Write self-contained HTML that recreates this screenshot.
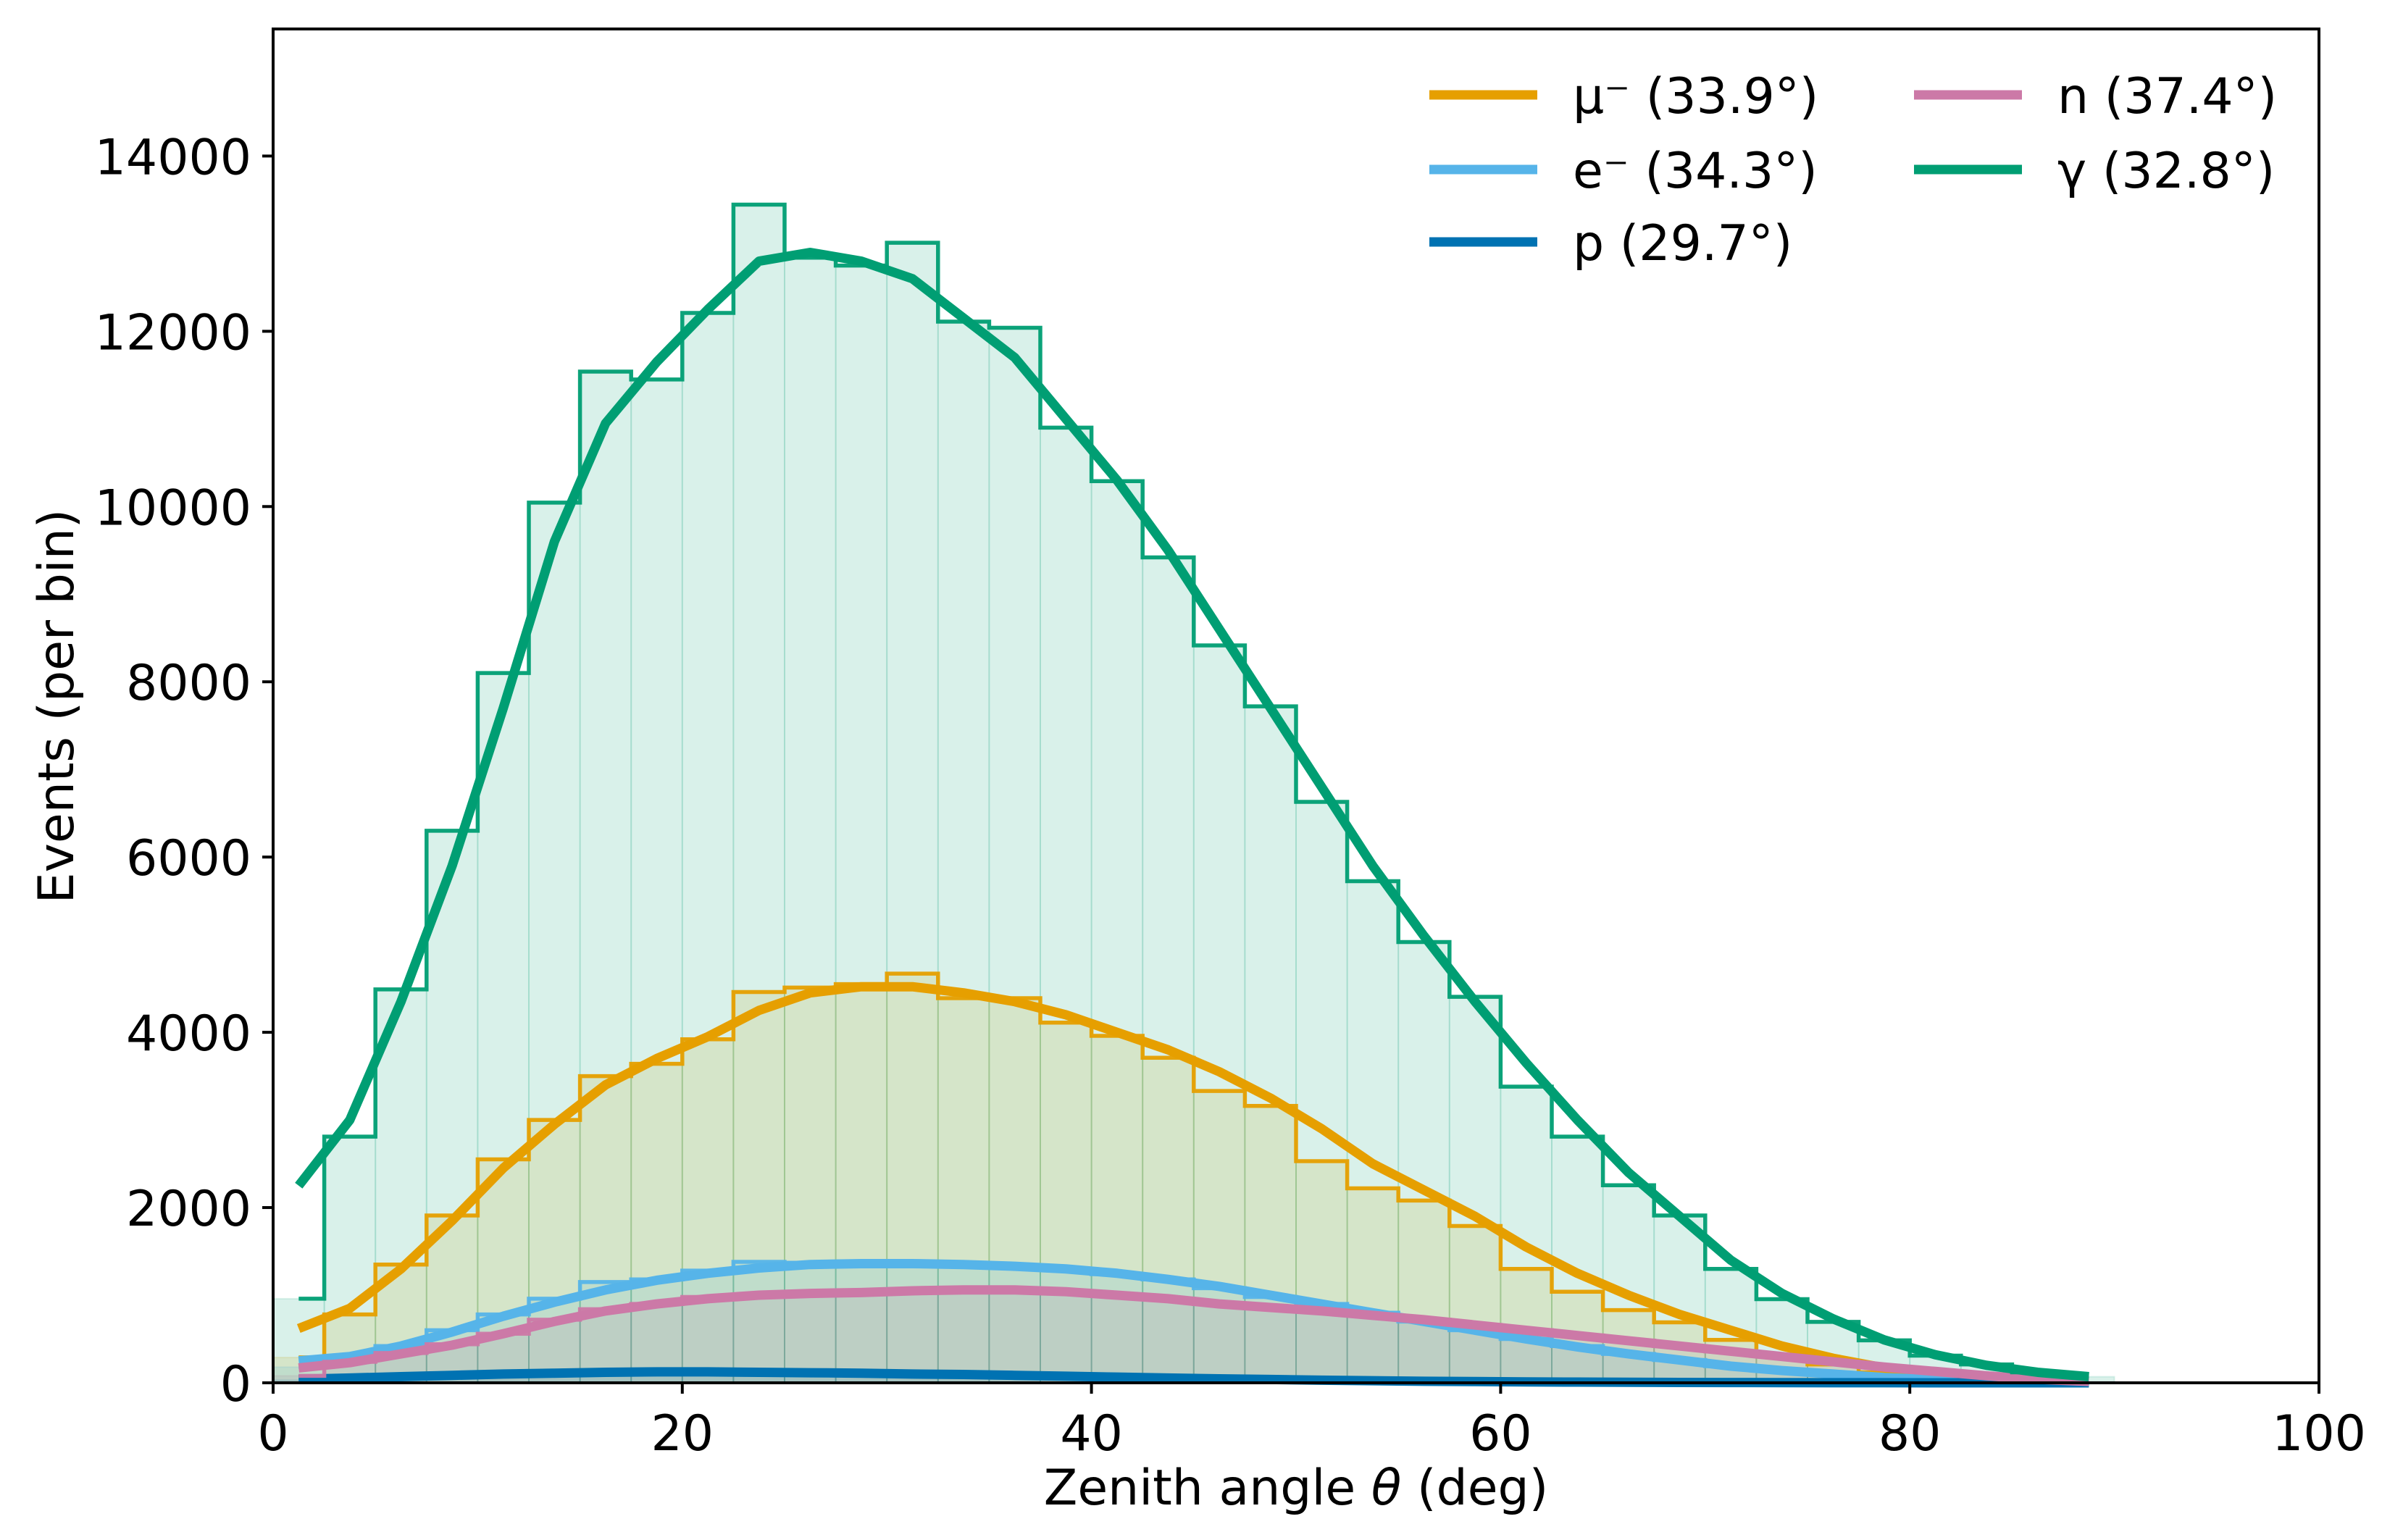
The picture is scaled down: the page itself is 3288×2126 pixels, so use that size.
<!DOCTYPE html>
<html><head><meta charset="utf-8"><style>
html,body{margin:0;padding:0;background:#fff}
svg{display:block}
text{font-family:"DejaVu Sans","Liberation Sans",sans-serif;fill:#000}
</style></head><body>
<svg id="chart" width="3288" height="2126" viewBox="0 0 3288 2126" xmlns="http://www.w3.org/2000/svg">
<rect width="3288" height="2126" fill="#fff"/>
<g id="plot"></g>
<g id="axes"></g>
<text x="1789" y="2077" font-size="68" text-anchor="middle">Zenith angle <tspan font-style="italic">θ</tspan> (deg)</text>
<text transform="translate(101,975) rotate(-90)" font-size="68" text-anchor="middle">Events (per bin)</text>
</svg>
<script>
const binEdgesStart = 0, binWidth = 2.5, nBins = 36;
const xTicks = [0, 20, 40, 60, 80, 100];
const yTicks = [0, 2000, 4000, 6000, 8000, 10000, 12000, 14000];
const seriesNames = ["mu", "e", "p", "n", "gamma"];
const legendLabels = ["μ⁻ (33.9°)", "e⁻ (34.3°)", "p (29.7°)", "n (37.4°)", "γ (32.8°)"];
const seriesColors = ["#E69F00", "#56B4E9", "#0072B2", "#CC79A7", "#009E73"];
const histMu = [290,780,1350,1910,2550,3000,3500,3640,3920,4460,4510,4550,4670,4390,4390,4110,3960,3710,3330,3160,2530,2220,2080,1790,1300,1040,830,690,490,310,210,120,70,35,15,0];
const curveMu = [620,850,1300,1850,2450,2950,3400,3700,3950,4250,4450,4520,4520,4450,4350,4200,4000,3800,3550,3250,2900,2500,2200,1900,1550,1250,1000,780,600,420,280,170,100,50,20,5];
const histE = [180,280,420,600,780,960,1150,1180,1280,1380,1370,1360,1370,1340,1340,1300,1240,1180,1080,980,900,800,700,600,500,420,330,260,190,140,100,60,35,20,10,5];
const curveE = [250,300,420,580,760,920,1060,1170,1250,1310,1350,1360,1360,1350,1330,1300,1250,1180,1100,1000,900,800,700,600,500,410,330,260,190,140,100,60,35,20,10,5];
const histP = [30,50,70,85,100,110,120,125,125,120,115,110,100,95,85,75,65,55,45,38,30,24,18,14,10,8,6,4,3,2,1,1,0,0,0,0];
const curveP = [40,55,70,85,100,110,120,125,125,120,115,110,100,95,85,75,65,55,45,38,30,24,18,14,10,8,6,4,3,2,1,1,0,0,0,0];
const histN = [80,240,340,440,560,720,840,900,980,1000,1020,1040,1060,1050,1060,1030,1000,960,900,860,820,770,720,660,600,540,480,420,360,300,240,180,130,80,40,15];
const curveN = [170,230,330,430,560,700,820,900,960,1000,1020,1030,1050,1060,1060,1040,1000,960,900,860,820,770,720,660,600,540,480,420,360,300,240,180,130,80,40,15];
const histG = [960,2810,4490,6300,8100,10045,11540,11450,12210,13445,12840,12750,13010,12110,12040,10900,10290,9420,8415,7720,6630,5725,5030,4405,3380,2810,2255,1910,1300,955,695,485,310,210,120,70];
const curveG = [2250,3000,4350,5900,7700,9600,10950,11650,12250,12800,12900,12800,12600,12150,11700,11000,10300,9500,8600,7700,6800,5900,5100,4350,3650,3000,2400,1900,1400,1020,730,490,320,200,120,70];
const allHists = [histMu, histE, histP, histN, histG];
const allCurves = [curveMu, curveE, curveP, curveN, curveG];

const L = 377, R = 3201, T = 40, B = 1909;
const XMAX = 100, YMAX = 15450;
const xs = v => L + (v / XMAX) * (R - L);
const ys = v => B - (v / YMAX) * (B - T);
const NS = "http://www.w3.org/2000/svg";
function mk(tag, attrs, parent) {
  const e = document.createElementNS(NS, tag);
  for (const k in attrs) e.setAttribute(k, attrs[k]);
  parent.appendChild(e);
  return e;
}
const plot = document.getElementById("plot");
const axes = document.getElementById("axes");
const centers = [];
for (let i = 0; i < nBins; i++) centers.push(binEdgesStart + binWidth * (i + 0.5));

allHists.forEach((h, s) => {
  const g = mk("g", {}, plot);
  
  
  h.forEach((v, i) => {
    const x0 = xs(binEdgesStart + i * binWidth), x1 = xs(binEdgesStart + (i + 1) * binWidth);
    const r = mk("rect", {x: x0, y: ys(v), width: x1 - x0, height: B - ys(v),
      fill: seriesColors[s], "fill-opacity": 0.15, stroke: seriesColors[s], "stroke-opacity": 0.12, "stroke-width": 2}, g);
    
    
  });
});
allHists.forEach((h, s) => {
  let d = "";
  h.forEach((v, i) => {
    const xa = i === 0 ? xs(centers[0]) : xs(binEdgesStart + i * binWidth);
    const xb = i === nBins - 1 ? xs(centers[i]) : xs(binEdgesStart + (i + 1) * binWidth);
    d += (i === 0 ? "M" : "L") + xa + "," + ys(v) + "L" + xb + "," + ys(v);
  });
  const st = mk("path", {d: d, fill: "none", stroke: seriesColors[s], "stroke-width": 5.5, "stroke-opacity": 0.95}, plot);
  
  
  const c = allCurves[s];
  const pd = c.map((v, i) => (i ? "L" : "M") + xs(centers[i]) + "," + ys(v)).join("");
  const cl = mk("path", {d: pd, fill: "none", stroke: seriesColors[s], "stroke-width": 13, "stroke-linejoin": "round"}, plot);
  
  
});

const fr = mk("rect", {x: L, y: T, width: R - L, height: B - T, fill: "none", stroke: "#000", "stroke-width": 4}, axes);


xTicks.forEach(t => {
  const tk = mk("line", {x1: xs(t), x2: xs(t), y1: B, y2: B + 15, stroke: "#000", "stroke-width": 4}, axes);
  
  
  const tx = mk("text", {x: xs(t), y: B + 93, "font-size": 68, "text-anchor": "middle"}, axes);
  tx.textContent = t;
  
  
});
yTicks.forEach(t => {
  const tk = mk("line", {x1: L - 15, x2: L, y1: ys(t), y2: ys(t), stroke: "#000", "stroke-width": 4}, axes);
  
  
  const tx = mk("text", {x: L - 30, y: ys(t) + 25, "font-size": 68, "text-anchor": "end"}, axes);
  tx.textContent = t;
  
  
});
const legPos = [[1973, 131], [1973, 234], [1973, 334], [2642, 131], [2642, 234]];
seriesNames.forEach((n, s) => {
  const g = mk("g", {}, axes);
  
  
  const [lx, ly] = legPos[s];
  mk("line", {x1: lx, x2: lx + 149, y1: ly, y2: ly, stroke: seriesColors[s], "stroke-width": 13}, g);
  const t = mk("text", {x: lx + 198, y: ly + 25, "font-size": 68}, g);
  t.textContent = legendLabels[s];
});
</script>
</body></html>
